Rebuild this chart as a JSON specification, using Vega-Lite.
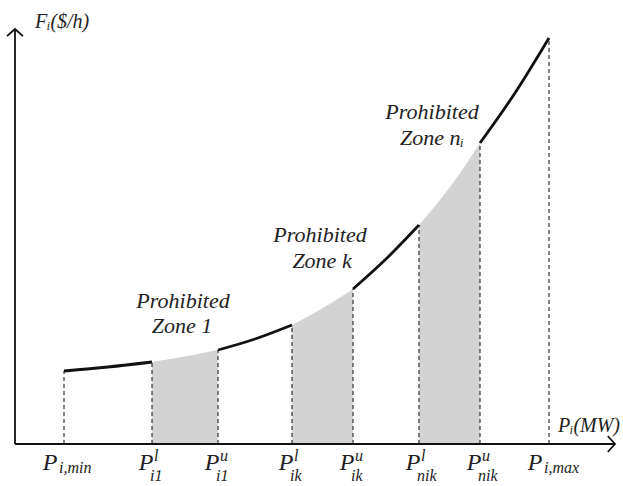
{
  "$schema": "https://vega.github.io/schema/vega-lite/v6.json",
  "width": 623,
  "height": 486,
  "autosize": {"type": "fit", "contains": "padding"},
  "padding": 0,
  "background": "white",
  "config": {"view": {"stroke": null}},
  "datasets": {
    "curve": [
      {"seg": "a1", "kind": "allowed", "x": 49, "F": 73},
      {"seg": "a1", "kind": "allowed", "x": 93, "F": 77},
      {"seg": "a1", "kind": "allowed", "x": 137, "F": 82},
      {"seg": "z1", "kind": "zone", "x": 137, "F": 82},
      {"seg": "z1", "kind": "zone", "x": 170, "F": 87.5},
      {"seg": "z1", "kind": "zone", "x": 203, "F": 94},
      {"seg": "a2", "kind": "allowed", "x": 203, "F": 94},
      {"seg": "a2", "kind": "allowed", "x": 240, "F": 105},
      {"seg": "a2", "kind": "allowed", "x": 277, "F": 119},
      {"seg": "zk", "kind": "zone", "x": 277, "F": 119},
      {"seg": "zk", "kind": "zone", "x": 308, "F": 136},
      {"seg": "zk", "kind": "zone", "x": 338, "F": 155},
      {"seg": "a3", "kind": "allowed", "x": 338, "F": 155},
      {"seg": "a3", "kind": "allowed", "x": 371, "F": 185},
      {"seg": "a3", "kind": "allowed", "x": 404, "F": 219},
      {"seg": "zn", "kind": "zone", "x": 404, "F": 219},
      {"seg": "zn", "kind": "zone", "x": 435, "F": 257},
      {"seg": "zn", "kind": "zone", "x": 465, "F": 301},
      {"seg": "a4", "kind": "allowed", "x": 465, "F": 301},
      {"seg": "a4", "kind": "allowed", "x": 500, "F": 351},
      {"seg": "a4", "kind": "allowed", "x": 534, "F": 406}
    ],
    "bounds": [
      {"x": 49, "F": 73, "base": 0, "lab": -26, "type": "lim", "sub": "i,min", "sup": ""},
      {"x": 137, "F": 82, "base": 0, "lab": -26, "type": "zone", "sub": "i1", "sup": "l"},
      {"x": 203, "F": 94, "base": 0, "lab": -26, "type": "zone", "sub": "i1", "sup": "u"},
      {"x": 277, "F": 119, "base": 0, "lab": -26, "type": "zone", "sub": "ik", "sup": "l"},
      {"x": 338, "F": 155, "base": 0, "lab": -26, "type": "zone", "sub": "ik", "sup": "u"},
      {"x": 404, "F": 219, "base": 0, "lab": -26, "type": "zone", "sub": "nik", "sup": "l"},
      {"x": 465, "F": 301, "base": 0, "lab": -26, "type": "zone", "sub": "nik", "sup": "u"},
      {"x": 534, "F": 406, "base": 0, "lab": -26, "type": "lim", "sub": "i,max", "sup": ""}
    ],
    "axes": [
      {"name": "y", "x": 0, "x2": 0, "F": 0, "F2": 415},
      {"name": "x", "x": 0, "x2": 600, "F": 0, "F2": 0}
    ],
    "heads": [
      {"dir": "up", "x": 0, "F": 415},
      {"dir": "right", "x": 600, "F": 0}
    ],
    "notes": [
      {"x": 168, "F": 136, "text": "Prohibited"},
      {"x": 167, "F": 111, "text": "Zone 1"},
      {"x": 305, "F": 202, "text": "Prohibited"},
      {"x": 307, "F": 176, "text": "Zone k"},
      {"x": 417, "F": 325, "text": "Prohibited"},
      {"x": 417, "F": 299, "text": "Zone nᵢ"}
    ],
    "titles": [
      {"x": 20, "F": 416, "text": "Fᵢ($/h)"},
      {"x": 543, "F": 12, "text": "Pᵢ(MW)"}
    ]
  },
  "layer": [
    {
      "data": {"name": "curve"},
      "transform": [{"filter": "datum.kind === 'zone'"}],
      "mark": {"type": "area", "color": "#d3d3d3", "interpolate": "monotone", "opacity": 1},
      "encoding": {
        "x": {"field": "x", "type": "quantitative", "scale": {"domain": [-15, 608], "nice": false, "zero": false}, "axis": null},
        "y": {"field": "F", "type": "quantitative", "stack": null, "scale": {"domain": [-42, 444], "nice": false, "zero": false}, "axis": null},
        "y2": {"datum": 0},
        "detail": {"field": "seg", "type": "nominal"}
      }
    },
    {
      "data": {"name": "bounds"},
      "mark": {"type": "rule", "color": "#333", "strokeWidth": 1.2, "strokeDash": [4, 3]},
      "encoding": {
        "x": {"field": "x", "type": "quantitative", "scale": {"domain": [-15, 608], "nice": false, "zero": false}, "axis": null},
        "y": {"field": "base", "type": "quantitative", "scale": {"domain": [-42, 444], "nice": false, "zero": false}, "axis": null},
        "y2": {"field": "F"}
      }
    },
    {
      "data": {"name": "curve"},
      "transform": [{"filter": "datum.kind === 'allowed'"}],
      "mark": {"type": "line", "color": "#111", "strokeWidth": 2.8, "interpolate": "monotone"},
      "encoding": {
        "x": {"field": "x", "type": "quantitative", "scale": {"domain": [-15, 608], "nice": false, "zero": false}, "axis": null},
        "y": {"field": "F", "type": "quantitative", "scale": {"domain": [-42, 444], "nice": false, "zero": false}, "axis": null},
        "detail": {"field": "seg", "type": "nominal"}
      }
    },
    {
      "data": {"name": "axes"},
      "mark": {"type": "rule", "color": "#111", "strokeWidth": 1.8},
      "encoding": {
        "x": {"field": "x", "type": "quantitative", "scale": {"domain": [-15, 608], "nice": false, "zero": false}, "axis": null},
        "x2": {"field": "x2"},
        "y": {"field": "F", "type": "quantitative", "scale": {"domain": [-42, 444], "nice": false, "zero": false}, "axis": null},
        "y2": {"field": "F2"}
      }
    },
    {
      "data": {"name": "heads"},
      "transform": [{"filter": "datum.dir === 'up'"}],
      "mark": {"type": "point", "shape": "M-1,0.9L0,0L1,0.9", "filled": false, "stroke": "#111", "strokeWidth": 1.8, "size": 256, "opacity": 1},
      "encoding": {
        "x": {"field": "x", "type": "quantitative", "scale": {"domain": [-15, 608], "nice": false, "zero": false}, "axis": null},
        "y": {"field": "F", "type": "quantitative", "scale": {"domain": [-42, 444], "nice": false, "zero": false}, "axis": null}
      }
    },
    {
      "data": {"name": "heads"},
      "transform": [{"filter": "datum.dir === 'right'"}],
      "mark": {"type": "point", "shape": "M-0.9,-1L0,0L-0.9,1", "filled": false, "stroke": "#111", "strokeWidth": 1.8, "size": 256, "opacity": 1},
      "encoding": {
        "x": {"field": "x", "type": "quantitative", "scale": {"domain": [-15, 608], "nice": false, "zero": false}, "axis": null},
        "y": {"field": "F", "type": "quantitative", "scale": {"domain": [-42, 444], "nice": false, "zero": false}, "axis": null}
      }
    },
    {
      "data": {"name": "notes"},
      "mark": {"type": "text", "font": "Liberation Serif", "fontStyle": "italic", "fontSize": 22, "align": "center", "baseline": "alphabetic", "color": "#222"},
      "encoding": {
        "x": {"field": "x", "type": "quantitative", "scale": {"domain": [-15, 608], "nice": false, "zero": false}, "axis": null},
        "y": {"field": "F", "type": "quantitative", "scale": {"domain": [-42, 444], "nice": false, "zero": false}, "axis": null},
        "text": {"field": "text", "type": "nominal"}
      }
    },
    {
      "data": {"name": "titles"},
      "mark": {"type": "text", "font": "Liberation Serif", "fontStyle": "italic", "fontSize": 20, "align": "left", "baseline": "alphabetic", "color": "#222"},
      "encoding": {
        "x": {"field": "x", "type": "quantitative", "scale": {"domain": [-15, 608], "nice": false, "zero": false}, "axis": null},
        "y": {"field": "F", "type": "quantitative", "scale": {"domain": [-42, 444], "nice": false, "zero": false}, "axis": null},
        "text": {"field": "text", "type": "nominal"}
      }
    },
    {
      "data": {"name": "bounds"},
      "transform": [{"filter": "datum.type === 'zone'"}],
      "mark": {"type": "text", "font": "Liberation Serif", "fontStyle": "italic", "fontSize": 24, "align": "center", "baseline": "alphabetic", "dx": -6, "color": "#222", "text": "P"},
      "encoding": {
        "x": {"field": "x", "type": "quantitative", "scale": {"domain": [-15, 608], "nice": false, "zero": false}, "axis": null},
        "y": {"field": "lab", "type": "quantitative", "scale": {"domain": [-42, 444], "nice": false, "zero": false}, "axis": null}
      }
    },
    {
      "data": {"name": "bounds"},
      "transform": [{"filter": "datum.type === 'zone'"}],
      "mark": {"type": "text", "font": "Liberation Serif", "fontStyle": "italic", "fontSize": 16, "align": "left", "baseline": "alphabetic", "dx": 2, "dy": -9, "color": "#222"},
      "encoding": {
        "x": {"field": "x", "type": "quantitative", "scale": {"domain": [-15, 608], "nice": false, "zero": false}, "axis": null},
        "y": {"field": "lab", "type": "quantitative", "scale": {"domain": [-42, 444], "nice": false, "zero": false}, "axis": null},
        "text": {"field": "sup", "type": "nominal"}
      }
    },
    {
      "data": {"name": "bounds"},
      "transform": [{"filter": "datum.type === 'zone'"}],
      "mark": {"type": "text", "font": "Liberation Serif", "fontStyle": "italic", "fontSize": 16, "align": "left", "baseline": "alphabetic", "dx": -2, "dy": 11, "color": "#222"},
      "encoding": {
        "x": {"field": "x", "type": "quantitative", "scale": {"domain": [-15, 608], "nice": false, "zero": false}, "axis": null},
        "y": {"field": "lab", "type": "quantitative", "scale": {"domain": [-42, 444], "nice": false, "zero": false}, "axis": null},
        "text": {"field": "sub", "type": "nominal"}
      }
    },
    {
      "data": {"name": "bounds"},
      "transform": [{"filter": "datum.type === 'lim'"}],
      "mark": {"type": "text", "font": "Liberation Serif", "fontStyle": "italic", "fontSize": 24, "align": "center", "baseline": "alphabetic", "dx": -14, "color": "#222", "text": "P"},
      "encoding": {
        "x": {"field": "x", "type": "quantitative", "scale": {"domain": [-15, 608], "nice": false, "zero": false}, "axis": null},
        "y": {"field": "lab", "type": "quantitative", "scale": {"domain": [-42, 444], "nice": false, "zero": false}, "axis": null}
      }
    },
    {
      "data": {"name": "bounds"},
      "transform": [{"filter": "datum.type === 'lim'"}],
      "mark": {"type": "text", "font": "Liberation Serif", "fontStyle": "italic", "fontSize": 16, "align": "left", "baseline": "alphabetic", "dx": -5, "dy": 3, "color": "#222"},
      "encoding": {
        "x": {"field": "x", "type": "quantitative", "scale": {"domain": [-15, 608], "nice": false, "zero": false}, "axis": null},
        "y": {"field": "lab", "type": "quantitative", "scale": {"domain": [-42, 444], "nice": false, "zero": false}, "axis": null},
        "text": {"field": "sub", "type": "nominal"}
      }
    }
  ]
}
